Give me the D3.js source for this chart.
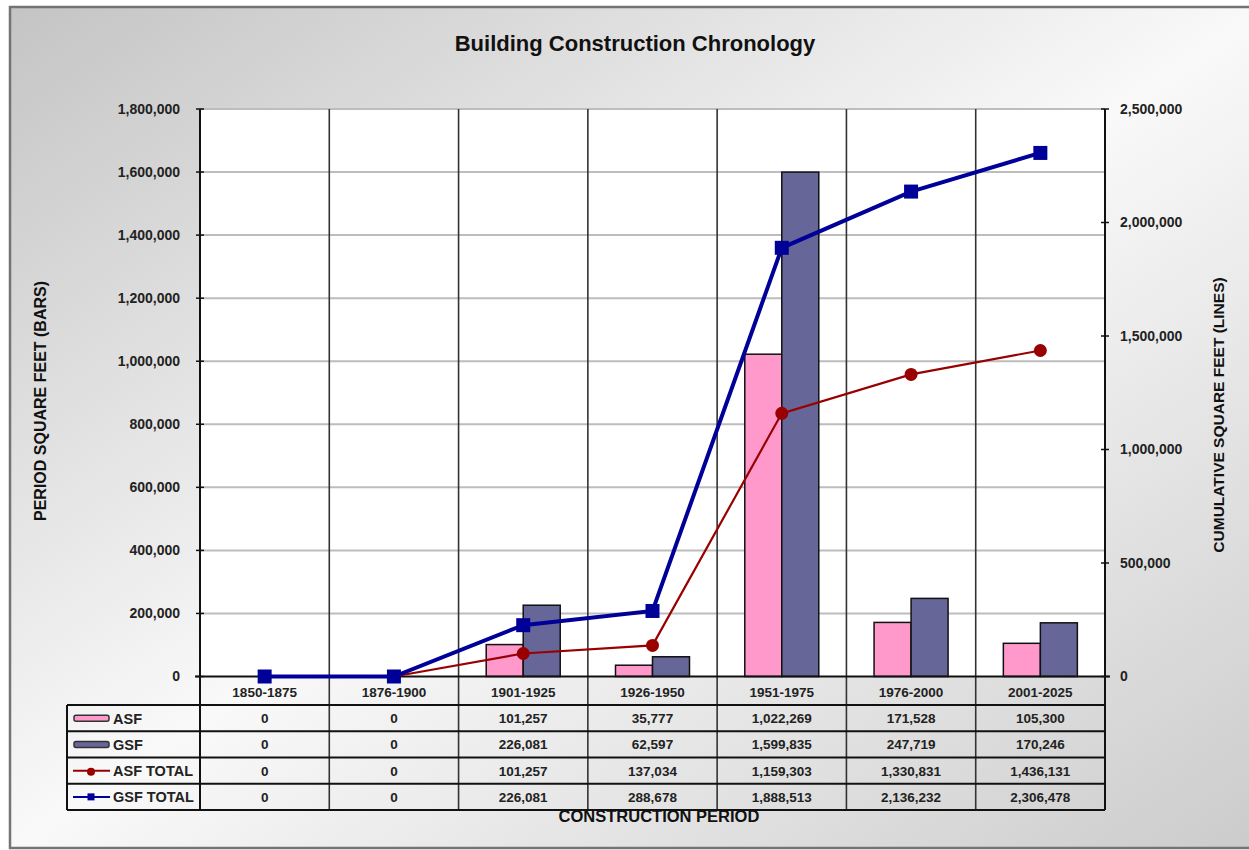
<!DOCTYPE html>
<html>
<head>
<meta charset="utf-8">
<script src="https://cdn.jsdelivr.net/npm/d3@7"></script>
<style>
  html, body { margin: 0; padding: 0; background: #ffffff; }
  svg { display: block; font-family: Arial, "Liberation Sans", sans-serif; }
</style>
</head>
<body>
<svg id="chart" width="1249" height="850"></svg>
<script>
// ---- Data ----
const categories = ["1850-1875", "1876-1900", "1901-1925", "1926-1950", "1951-1975", "1976-2000", "2001-2025"];
const asf = [0, 0, 101257, 35777, 1022269, 171528, 105300];
const gsf = [0, 0, 226081, 62597, 1599835, 247719, 170246];
const asfTotal = [0, 0, 101257, 137034, 1159303, 1330831, 1436131];
const gsfTotal = [0, 0, 226081, 288678, 1888513, 2136232, 2306478];
const leftTicks = [0, 200000, 400000, 600000, 800000, 1000000, 1200000, 1400000, 1600000, 1800000];
const rightTicks = [0, 500000, 1000000, 1500000, 2000000, 2500000];
const seriesNames = ["ASF", "GSF", "ASF TOTAL", "GSF TOTAL"];

const colors = { ASF: "#ff99cc", GSF: "#666699", "ASF TOTAL": "#990000", "GSF TOTAL": "#000099" };

const svg = d3.select("#chart");
const W = 1249, H = 850;

// ---- Background ----
const defs = svg.append("defs");
const grad = defs.append("linearGradient").attr("id", "bg")
  .attr("x1", 0).attr("y1", 0).attr("x2", 1).attr("y2", 1);
grad.append("stop").attr("offset", 0).attr("stop-color", "#c4c4c4");
grad.append("stop").attr("offset", 0.5).attr("stop-color", "#f9f9f9");
grad.append("stop").attr("offset", 1).attr("stop-color", "#cbcbcb");

svg.append("rect").attr("x", 0).attr("y", 0).attr("width", W).attr("height", H).attr("fill", "#ffffff");
svg.append("rect").attr("x", 10).attr("y", 7).attr("width", W + 10).attr("height", 841)
  .attr("fill", "url(#bg)").attr("stroke", "#747474").attr("stroke-width", 2.5);

// ---- Layout ----
const plotL = 200, plotR = 1105, plotT = 109, plotB = 676.5;

const x0 = d3.scaleBand().domain(categories).range([plotL, plotR]).paddingInner(0).paddingOuter(0);
const bw = x0.bandwidth();
const x1 = d3.scaleBand().domain(["ASF", "GSF"]).range([0, bw]).paddingInner(0).paddingOuter(0.747);
const yL = d3.scaleLinear().domain([0, 1800000]).range([plotB, plotT]);
const yR = d3.scaleLinear().domain([0, 2500000]).range([plotB, plotT]);
const fmt = d3.format(",");

// Title
svg.append("text").attr("x", 635).attr("y", 51).attr("text-anchor", "middle")
  .attr("font-size", 22).attr("font-weight", "bold").attr("fill", "#111")
  .text("Building Construction Chronology");

// Plot area
svg.append("rect").attr("x", plotL).attr("y", plotT).attr("width", plotR - plotL).attr("height", plotB - plotT)
  .attr("fill", "#ffffff");

// Horizontal gridlines
svg.append("g").selectAll("line").data(leftTicks.filter(d => d > 0)).join("line")
  .attr("x1", plotL).attr("x2", plotR)
  .attr("y1", d => yL(d)).attr("y2", d => yL(d))
  .attr("stroke", "#bdbdbd").attr("stroke-width", 2);

// Vertical dividers (plot + table)
const tableTop = 705, rowH = 26.25, tableBottom = tableTop + 4 * rowH;
svg.append("g").selectAll("line").data(categories.slice(1)).join("line")
  .attr("x1", d => x0(d)).attr("x2", d => x0(d))
  .attr("y1", plotT).attr("y2", tableBottom)
  .attr("stroke", "#333").attr("stroke-width", 1.6);

// Bars
const barData = [];
categories.forEach((c, i) => {
  barData.push({ c, s: "ASF", v: asf[i] });
  barData.push({ c, s: "GSF", v: gsf[i] });
});
svg.append("g").selectAll("rect").data(barData.filter(d => d.v > 0)).join("rect")
  .attr("x", d => x0(d.c) + x1(d.s))
  .attr("width", x1.bandwidth())
  .attr("y", d => yL(d.v))
  .attr("height", d => yL(0) - yL(d.v))
  .attr("fill", d => colors[d.s])
  .attr("stroke", "#111").attr("stroke-width", 1.5);

// Axes lines
svg.append("line").attr("x1", plotL).attr("x2", plotL).attr("y1", plotT).attr("y2", tableBottom)
  .attr("stroke", "#111").attr("stroke-width", 2);
svg.append("line").attr("x1", plotR).attr("x2", plotR).attr("y1", plotT).attr("y2", tableBottom)
  .attr("stroke", "#111").attr("stroke-width", 2);
svg.append("line").attr("x1", plotL - 5).attr("x2", plotR + 5).attr("y1", plotB).attr("y2", plotB)
  .attr("stroke", "#111").attr("stroke-width", 2);

// Left axis
const leftAxis = d3.axisLeft(yL).tickValues(leftTicks).tickFormat(fmt).tickSize(0).tickPadding(20);
const gL = svg.append("g").attr("transform", `translate(${plotL},0)`).call(leftAxis);
gL.select(".domain").remove();
gL.selectAll("text").attr("font-size", 14).attr("font-weight", "bold").attr("fill", "#222")
  .attr("font-family", "Arial, 'Liberation Sans', sans-serif");
svg.append("g").selectAll("line").data(leftTicks).join("line")
  .attr("x1", plotL - 4).attr("x2", plotL + 4).attr("y1", d => yL(d)).attr("y2", d => yL(d))
  .attr("stroke", "#111").attr("stroke-width", 1.5);

// Right axis
const rightAxis = d3.axisRight(yR).tickValues(rightTicks).tickFormat(fmt).tickSize(0).tickPadding(15);
const gR = svg.append("g").attr("transform", `translate(${plotR},0)`).call(rightAxis);
gR.select(".domain").remove();
gR.selectAll("text").attr("font-size", 14).attr("font-weight", "bold").attr("fill", "#222")
  .attr("font-family", "Arial, 'Liberation Sans', sans-serif");
svg.append("g").selectAll("line").data(rightTicks).join("line")
  .attr("x1", plotR - 4).attr("x2", plotR + 4).attr("y1", d => yR(d)).attr("y2", d => yR(d))
  .attr("stroke", "#111").attr("stroke-width", 1.5);

// Axis titles
svg.append("text").attr("transform", "translate(46,401) rotate(-90)").attr("text-anchor", "middle")
  .attr("font-size", 16).attr("font-weight", "bold").attr("fill", "#111")
  .text("PERIOD SQUARE FEET (BARS)");
svg.append("text").attr("transform", "translate(1224,415) rotate(-90)").attr("text-anchor", "middle")
  .attr("font-size", 15.5).attr("font-weight", "bold").attr("fill", "#111")
  .text("CUMULATIVE SQUARE FEET (LINES)");
svg.append("text").attr("x", 659).attr("y", 822).attr("text-anchor", "middle")
  .attr("font-size", 16.5).attr("font-weight", "bold").attr("fill", "#111")
  .text("CONSTRUCTION PERIOD");

// Lines
const cx = c => x0(c) + bw / 2;
const lineGen = arr => d3.line().x((d, i) => cx(categories[i])).y(d => yR(d))(arr);

svg.append("path").attr("d", lineGen(asfTotal)).attr("fill", "none")
  .attr("stroke", colors["ASF TOTAL"]).attr("stroke-width", 2.2);
svg.append("g").selectAll("circle").data(asfTotal).join("circle")
  .attr("cx", (d, i) => cx(categories[i])).attr("cy", d => yR(d)).attr("r", 6.5)
  .attr("fill", colors["ASF TOTAL"]);

svg.append("path").attr("d", lineGen(gsfTotal)).attr("fill", "none")
  .attr("stroke", colors["GSF TOTAL"]).attr("stroke-width", 4);
const sq = 14;
svg.append("g").selectAll("rect").data(gsfTotal).join("rect")
  .attr("x", (d, i) => cx(categories[i]) - sq / 2).attr("y", d => yR(d) - sq / 2)
  .attr("width", sq).attr("height", sq)
  .attr("fill", colors["GSF TOTAL"]);

// Category labels
svg.append("g").selectAll("text").data(categories).join("text")
  .attr("x", d => cx(d)).attr("y", 697).attr("text-anchor", "middle")
  .attr("font-size", 13.5).attr("font-weight", "bold").attr("fill", "#222")
  .text(d => d);

// ---- Data table ----
const legendL = 67;
const rows = [asf, gsf, asfTotal, gsfTotal];
const tg = svg.append("g");
d3.range(5).forEach(k => {
  tg.append("line").attr("x1", legendL).attr("x2", plotR)
    .attr("y1", tableTop + k * rowH).attr("y2", tableTop + k * rowH)
    .attr("stroke", "#111").attr("stroke-width", 2);
});
tg.append("line").attr("x1", legendL).attr("x2", legendL).attr("y1", tableTop).attr("y2", tableBottom)
  .attr("stroke", "#111").attr("stroke-width", 2);

rows.forEach((arr, r) => {
  const yc = tableTop + r * rowH + rowH / 2;
  tg.selectAll(null).data(arr).join("text")
    .attr("x", (d, i) => cx(categories[i])).attr("y", yc + 5).attr("text-anchor", "middle")
    .attr("font-size", 13.5).attr("font-weight", "bold").attr("fill", "#222")
    .text(d => fmt(d));
  const name = seriesNames[r];
  tg.append("text").attr("x", 113).attr("y", yc + 5.5)
    .attr("font-size", 14.5).attr("font-weight", "bold").attr("fill", "#222").text(name);
  if (r < 2) {
    tg.append("rect").attr("x", 74).attr("y", yc - 3).attr("width", 35).attr("height", 6).attr("rx", 2)
      .attr("fill", colors[name]).attr("stroke", "#333").attr("stroke-width", 1.5);
  } else if (r === 2) {
    tg.append("line").attr("x1", 73).attr("x2", 110).attr("y1", yc).attr("y2", yc)
      .attr("stroke", colors[name]).attr("stroke-width", 2);
    tg.append("circle").attr("cx", 91).attr("cy", yc + 1).attr("r", 4).attr("fill", colors[name]);
  } else {
    tg.append("line").attr("x1", 73).attr("x2", 110).attr("y1", yc).attr("y2", yc)
      .attr("stroke", colors[name]).attr("stroke-width", 2);
    tg.append("rect").attr("x", 87.5).attr("y", yc - 3.5).attr("width", 7).attr("height", 7).attr("fill", colors[name]);
  }
});
</script>
</body>
</html>
